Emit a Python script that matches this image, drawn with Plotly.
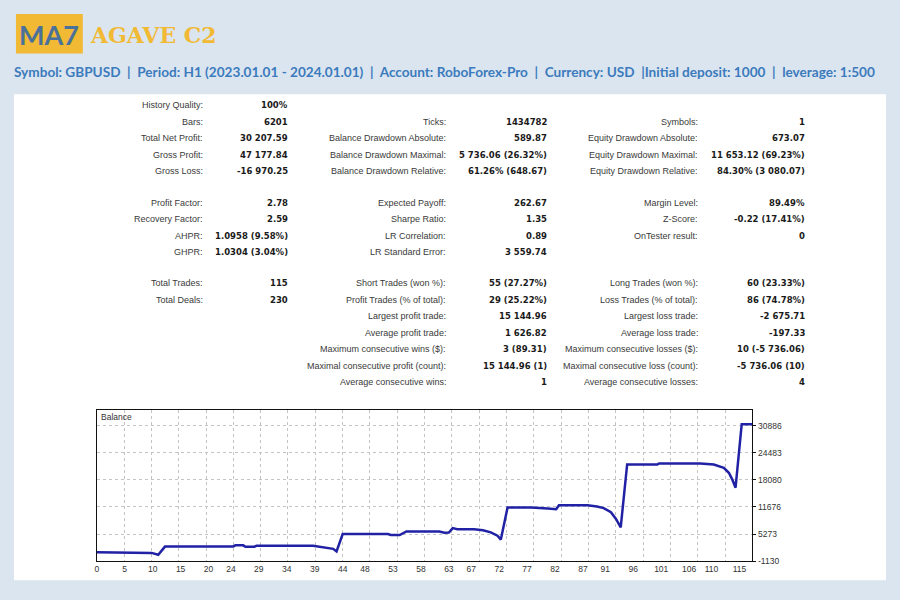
import plotly.graph_objects as go

W, H = 900, 600

# ---------------- data ----------------
trade_no = [0, 8.9, 9.8, 11.0, 12.2, 24.4, 24.8, 26.2, 26.6, 28.2, 28.6, 38.7, 39.3, 41.1, 42.3,
            42.9, 44.0, 52.1, 52.6, 54.2, 55.4, 61.3, 62.2, 63.0, 63.7, 64.5, 67.5, 69.1, 70.5,
            71.7, 72.3, 73.5, 77.7, 80.7, 81.6, 82.2, 82.7, 87.8, 89.5, 90.7, 92.0, 92.9, 93.75,
            94.9, 100.3, 100.6, 108.0, 110.4, 112.2, 113.1, 113.7, 114.3, 115.4, 117.3]
balance = [1000, 1000, 850, 410, 2330, 2330, 2630, 2630, 2300, 2300, 2550, 2550, 2400, 1960, 1800,
           1200, 5300, 5300, 5060, 5060, 5900, 5900, 5600, 5650, 6690, 6450, 6450, 6200, 5700,
           4900, 3980, 11540, 11540, 11300, 11140, 11140, 12070, 12070, 11800, 11400, 10450, 8850, 6885,
           21700, 21700, 21930, 21930, 21700, 20900, 19740, 18200, 16230, 31208, 31208]

x_tick_labels = [0, 5, 10, 15, 20, 24, 29, 34, 39, 44, 48, 53, 58, 63, 67, 72, 77, 82, 87, 91,
                 96, 101, 106, 110, 115]
y_tick_values = [-1130, 5273, 11676, 18080, 24483, 30886]

logo_text = "MA7"
ea_name = "AGAVE C2"
info_parts = ["Symbol: GBPUSD", "Period: H1 (2023.01.01 - 2024.01.01)", "Account: RoboForex-Pro",
              "Currency: USD", "Initial deposit: 1000", "leverage: 1:500"]

sec1_col1 = [("History Quality:", "100%"), ("Bars:", "6201"), ("Total Net Profit:", "30 207.59"),
             ("Gross Profit:", "47 177.84"), ("Gross Loss:", "-16 970.25")]
sec1_col2 = [None, ("Ticks:", "1434782"), ("Balance Drawdown Absolute:", "589.87"),
             ("Balance Drawdown Maximal:", "5 736.06 (26.32%)"),
             ("Balance Drawdown Relative:", "61.26% (648.67)")]
sec1_col3 = [None, ("Symbols:", "1"), ("Equity Drawdown Absolute:", "673.07"),
             ("Equity Drawdown Maximal:", "11 653.12 (69.23%)"),
             ("Equity Drawdown Relative:", "84.30% (3 080.07)")]

sec2_col1 = [("Profit Factor:", "2.78"), ("Recovery Factor:", "2.59"),
             ("AHPR:", "1.0958 (9.58%)"), ("GHPR:", "1.0304 (3.04%)")]
sec2_col2 = [("Expected Payoff:", "262.67"), ("Sharpe Ratio:", "1.35"),
             ("LR Correlation:", "0.89"), ("LR Standard Error:", "3 559.74")]
sec2_col3 = [("Margin Level:", "89.49%"), ("Z-Score:", "-0.22 (17.41%)"),
             ("OnTester result:", "0")]

sec3_col1 = [("Total Trades:", "115"), ("Total Deals:", "230")]
sec3_col2 = [("Short Trades (won %):", "55 (27.27%)"), ("Profit Trades (% of total):", "29 (25.22%)"),
             ("Largest profit trade:", "15 144.96"), ("Average profit trade:", "1 626.82"),
             ("Maximum consecutive wins ($):", "3 (89.31)"),
             ("Maximal consecutive profit (count):", "15 144.96 (1)"),
             ("Average consecutive wins:", "1")]
sec3_col3 = [("Long Trades (won %):", "60 (23.33%)"), ("Loss Trades (% of total):", "86 (74.78%)"),
             ("Largest loss trade:", "-2 675.71"), ("Average loss trade:", "-197.33"),
             ("Maximum consecutive losses ($):", "10 (-5 736.06)"),
             ("Maximal consecutive loss (count):", "-5 736.06 (10)"),
             ("Average consecutive losses:", "4")]

# ---------------- layout helpers ----------------
def px(x):
    return x / W


def py(y):
    return 1 - y / H


BG = "#dbe5ef"
YELLOW = "#f1b934"
BLUE_TXT = "#3b7bbd"
LABEL_FONT = dict(family="Liberation Sans, Arial, sans-serif", size=9, color="#3a3a3a")
VALUE_FONT = dict(family="DejaVu Sans, Verdana, sans-serif", size=8.5, color="#1a1a1a")

fig = go.Figure()
fig.add_trace(go.Scatter(x=trade_no, y=balance, mode="lines",
                         line=dict(color="#2121a5", width=2.5), hoverinfo="skip",
                         showlegend=False))

annotations = []

# logo + title
annotations.append(dict(x=px(47.5), y=py(35), xref="paper", yref="paper", text="<b>%s</b>" % logo_text,
                        showarrow=False, xanchor="center", yanchor="middle",
                        font=dict(family="Lato, sans-serif", size=27, color="#4a7199")))
annotations.append(dict(x=px(86), y=py(35), xref="paper", yref="paper", text="<b>%s</b>" % ea_name,
                        showarrow=False, xanchor="left", yanchor="middle",
                        font=dict(family="DejaVu Serif, serif", size=22, color=YELLOW)))

info_text = "&nbsp;&nbsp;|&nbsp;&nbsp;".join(info_parts[:4]) + "&nbsp;&nbsp;|" + \
    "&nbsp;&nbsp;|&nbsp;&nbsp;".join(info_parts[4:])
annotations.append(dict(x=px(10), y=py(73), xref="paper", yref="paper", text="<b>%s</b>" % info_text,
                        showarrow=False, xanchor="left", yanchor="middle",
                        font=dict(family="Lato, sans-serif", size=13.6, color=BLUE_TXT)))

# stats table
col_label_x = [203, 447, 700]
col_value_x = [289, 548, 807]
sections = [
    (106.0, [sec1_col1, sec1_col2, sec1_col3]),
    (204.5, [sec2_col1, sec2_col2, sec2_col3]),
    (285.5, [sec3_col1, sec3_col2, sec3_col3]),
]
ROW = 16.7
for y0, cols in sections:
    for ci, col in enumerate(cols):
        for ri, item in enumerate(col):
            if item is None:
                continue
            lab, val = item
            yy = py(y0 + ri * ROW)
            annotations.append(dict(x=px(col_label_x[ci]), y=yy, xref="paper", yref="paper",
                                    text=lab, showarrow=False, xanchor="right", yanchor="middle",
                                    font=LABEL_FONT))
            annotations.append(dict(x=px(col_value_x[ci]), y=yy, xref="paper", yref="paper",
                                    text="<b>%s</b>" % val, showarrow=False, xanchor="right",
                                    yanchor="middle", font=VALUE_FONT))

# chart caption
annotations.append(dict(x=px(97), y=py(420), xref="paper", yref="paper", text="Balance",
                        showarrow=False, xanchor="left", yanchor="middle",
                        font=dict(family="Liberation Sans, Arial, sans-serif", size=8.5, color="#333")))

shapes = [
    dict(type="rect", xref="paper", yref="paper", x0=px(12), x1=px(886), y0=py(585), y1=py(95),
         fillcolor="white", line=dict(width=0), layer="below"),
    dict(type="rect", xref="paper", yref="paper", x0=px(14), x1=px(81), y0=py(54), y1=py(14),
         fillcolor=YELLOW, line=dict(width=0), layer="below"),
]

X_MAX = 117.3
fig.update_layout(
    width=W, height=H,
    margin=dict(l=0, r=0, t=0, b=0),
    paper_bgcolor=BG, plot_bgcolor="white",
    showlegend=False,
    annotations=annotations, shapes=shapes,
    xaxis=dict(domain=[px(95), px(752)], range=[0, X_MAX], showgrid=False, zeroline=False,
               tickmode="array", tickvals=x_tick_labels, ticktext=[str(v) for v in x_tick_labels],
               ticks="", showline=True, mirror=True, linecolor="#111", linewidth=1,
               tickfont=dict(family="Liberation Sans, Arial, sans-serif", size=8.5, color="#333"),
               minor=dict(tick0=0, dtick=X_MAX / 24, showgrid=True, gridcolor="#c4c4c4",
                          griddash="3px,3px", gridwidth=1, ticks="")),
    yaxis=dict(domain=[py(566), py(413)], range=[-1130, 34650], side="right", zeroline=False,
               tickmode="array", tickvals=y_tick_values, ticktext=[str(v) for v in y_tick_values],
               showgrid=True, gridcolor="#c4c4c4", griddash="3px,3px", gridwidth=1,
               ticks="outside", ticklen=3, tickcolor="#111",
               showline=True, mirror=True, linecolor="#111", linewidth=1,
               tickfont=dict(family="Liberation Sans, Arial, sans-serif", size=8.5, color="#333")),
)

fig.write_html("out.html", config={"displayModeBar": False},
               post_script="document.body.style.margin='0';document.body.style.padding='0';"
                           "document.body.style.background='%s';" % BG)
